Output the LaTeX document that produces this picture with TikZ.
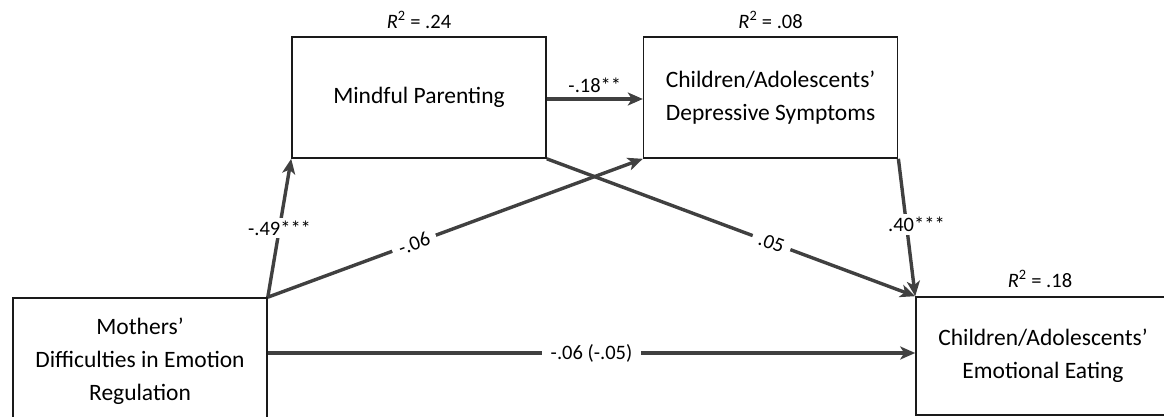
\documentclass[tikz,border=0pt]{standalone}
\usepackage{fontspec}
\setmainfont{Carlito}
\usepackage{xcolor}
\definecolor{pathGray}{HTML}{404040}
\definecolor{boxEdge}{HTML}{1A1A1A}
\usepackage{tikz}
\usetikzlibrary{arrows.meta,positioning,calc}
\tikzset{
    varbox/.style={
        draw=boxEdge,
        fill=white,
        rectangle,
        line width=1.6pt,
        align=center,
        inner sep=0pt,
        minimum width=254pt,
        minimum height=121pt,
        font=\fontsize{23.5}{33}\selectfont
    },
    path/.style={
        -{Stealth[length=15pt,width=13pt,inset=4pt]},
        line width=3.4pt,
        color=pathGray
    },
    coef/.style={
        font=\fontsize{20.5}{24}\selectfont,
        text=black,
        fill=white,
        inner xsep=7pt,
        inner ysep=3pt
    },
    rsq/.style={
        font=\fontsize{20.5}{24}\selectfont,
        anchor=base
    }
}
\newcommand{\rsqtext}[1]{{\itshape R}\textsuperscript{2} = #1}

\begin{document}
\begin{tikzpicture}[x=1pt,y=-1pt]
    \path[use as bounding box] (0,0) rectangle (1164,417);
    \clip (0,0) rectangle (1164,417);

    % Mediators
    \node[varbox] (mind) at (419,97.5) {Mindful Parenting};
    \node[varbox, right=96pt of mind] (dep) {Children/Adolescents’\\Depressive Symptoms};

    % Predictor and outcome
    \node[varbox, minimum height=126pt] (moth) at (140,361) {Mothers’\\Difficulties in Emotion\\Regulation};
    \node[varbox, minimum height=118pt] (emo) at (1043,356) {Children/Adolescents’\\Emotional Eating};

    % Explained variance
    \node[rsq] (r2mind) at ([yshift=8pt]mind.north) {\rsqtext{.24}};
    \node[rsq] (r2dep) at ([yshift=8pt]dep.north) {\rsqtext{.08}};
    \node[rsq] (r2emo) at ([yshift=9pt,xshift=-3pt]emo.north) {\rsqtext{.18}};

    % Paths
    \draw[path] (moth.north east) -- (mind.south west) node[coef, pos=0.5] {-.49***};
    \draw[path] (moth.north east) -- (dep.south west) node[coef, pos=0.39, sloped] {-.06};
    \draw[path] (mind.south east) -- (emo.north west) node[coef, pos=0.61, sloped] {.05};
    \draw[path] ([yshift=-1.5pt]mind.east) -- ([yshift=-1.5pt]dep.west) node[coef, midway, above, fill=none, yshift=2pt] {-.18**};
    \draw[path] (dep.south east) -- (emo.north west) node[coef, pos=0.48, xshift=10pt, inner xsep=2pt] {.40***};
    \draw[path] ([yshift=8pt]moth.east) -- ([yshift=8pt]moth.east -| emo.west) node[coef, midway, inner xsep=9pt] {-.06 (-.05)};
\end{tikzpicture}
\end{document}
